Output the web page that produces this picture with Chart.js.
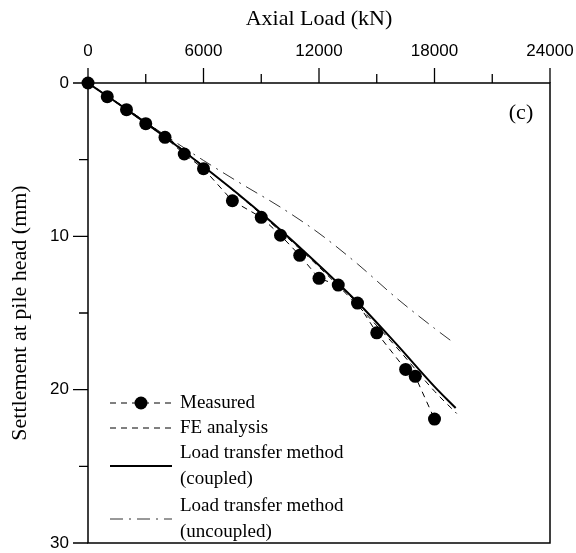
<!DOCTYPE html>
<html>
<head>
<meta charset="utf-8">
<script src="https://cdn.jsdelivr.net/npm/chart.js@4.4.1/dist/chart.umd.min.js"></script>
<style>
  body { margin: 0; background: #fff; }
  canvas { display: block; }
</style>
</head>
<body>
<canvas id="pileChart" width="576" height="553"></canvas>
<script>
// measured load-settlement at pile head
const measuredLoad = [0, 1000, 2000, 3000, 4000, 5000, 6000, 7500, 9000, 10000, 11000, 12000, 13000, 14000, 15000, 16500, 17000, 18000];
const measuredSettle = [0, 0.89, 1.74, 2.65, 3.54, 4.63, 5.59, 7.68, 8.76, 9.93, 11.24, 12.74, 13.18, 14.35, 16.29, 18.68, 19.13, 21.92];

const feLoad = [0, 2000, 4000, 6000, 8000, 10000, 12000, 14000, 16000, 18000, 19150];
const feSettle = [0, 1.68, 3.45, 5.42, 7.5, 9.68, 12.0, 14.5, 17.2, 20.1, 21.55];

const coupledLoad = [0, 2000, 4000, 6000, 8000, 10000, 12000, 14000, 16000, 18000, 19100];
const coupledSettle = [0, 1.72, 3.52, 5.45, 7.45, 9.58, 11.88, 14.3, 17.0, 19.8, 21.2];

const uncoupledLoad = [0, 2000, 4000, 6000, 8000, 10000, 12000, 14000, 16000, 18000, 18900];
const uncoupledSettle = [0, 1.68, 3.4, 5.05, 6.6, 8.1, 9.8, 11.8, 14.0, 16.0, 16.85];

const loadTickLabels = [0, 6000, 12000, 18000, 24000];
const settleTickLabels = [0, 10, 20, 30];

const legendLabels = [
    ['Measured'],
    ['FE analysis'],
    ['Load transfer method', '(coupled)'],
    ['Load transfer method', '(uncoupled)']
];
const panelLabel = '(c)';

function toPoints(xs, ys) {
    return xs.map((v, i) => ({ x: v, y: ys[i] }));
}

const serif = 'Liberation Serif';
const sans = 'Liberation Sans';

const decor = {
    id: 'decor',
    afterDraw(chart) {
        const { ctx, chartArea: a, scales: { x, y } } = chart;
        ctx.save();
        ctx.strokeStyle = '#000';
        ctx.lineWidth = 1.5;
        ctx.strokeRect(a.left, a.top, a.right - a.left, a.bottom - a.top);

        // outward ticks, long on labelled values
        ctx.lineWidth = 1.3;
        ctx.beginPath();
        x.ticks.forEach(t => {
            const px = x.getPixelForValue(t.value);
            const len = loadTickLabels.includes(t.value) ? 15 : 9;
            ctx.moveTo(px, a.top);
            ctx.lineTo(px, a.top - len);
        });
        y.ticks.forEach(t => {
            const py = y.getPixelForValue(t.value);
            const len = settleTickLabels.includes(t.value) ? 15 : 9;
            ctx.moveTo(a.left, py);
            ctx.lineTo(a.left - len, py);
        });
        ctx.stroke();

        // panel label
        ctx.fillStyle = '#000';
        ctx.font = '22px "' + serif + '"';
        ctx.textAlign = 'center';
        ctx.textBaseline = 'middle';
        ctx.fillText(panelLabel, 521, 113);

        // legend
        const rowTop = [403, 428, 453, 506];
        const lineGap = 26;
        ctx.font = '19px "' + serif + '"';
        ctx.textAlign = 'left';
        legendLabels.forEach((lines, i) => {
            const ds = chart.data.datasets[i];
            const ty = rowTop[i];
            lines.forEach((txt, j) => ctx.fillText(txt, 180, ty + j * lineGap));
            const sy = ty + (lines.length - 1) * lineGap / 2;
            ctx.save();
            ctx.strokeStyle = ds.borderColor;
            ctx.lineWidth = ds.borderWidth;
            ctx.setLineDash(ds.borderDash || []);
            ctx.beginPath();
            ctx.moveTo(110, sy);
            ctx.lineTo(172, sy);
            ctx.stroke();
            if (ds.pointRadius > 0) {
                ctx.setLineDash([]);
                ctx.fillStyle = ds.pointBackgroundColor;
                ctx.beginPath();
                ctx.arc(141, sy, ds.pointRadius, 0, Math.PI * 2);
                ctx.fill();
            }
            ctx.restore();
        });
        ctx.restore();
    }
};

const ctxPile = document.getElementById('pileChart').getContext('2d');
const pileChart = new Chart(ctxPile, {
    type: 'scatter',
    data: {
        datasets: [{
            label: 'Measured',
            data: toPoints(measuredLoad, measuredSettle),
            showLine: true,
            borderColor: '#000',
            borderWidth: 1,
            borderDash: [6, 5],
            pointRadius: 6.5,
            pointBackgroundColor: '#000',
            pointBorderWidth: 0,
            clip: 10
        }, {
            label: 'FE analysis',
            data: toPoints(feLoad, feSettle),
            showLine: true,
            borderColor: '#000',
            borderWidth: 1,
            borderDash: [6, 5],
            pointRadius: 0,
            cubicInterpolationMode: 'monotone'
        }, {
            label: 'Load transfer method (coupled)',
            data: toPoints(coupledLoad, coupledSettle),
            showLine: true,
            borderColor: '#000',
            borderWidth: 2,
            pointRadius: 0,
            cubicInterpolationMode: 'monotone'
        }, {
            label: 'Load transfer method (uncoupled)',
            data: toPoints(uncoupledLoad, uncoupledSettle),
            showLine: true,
            borderColor: '#333',
            borderWidth: 1,
            borderDash: [13, 6, 2, 6],
            pointRadius: 0,
            cubicInterpolationMode: 'monotone'
        }]
    },
    options: {
        responsive: false,
        animation: false,
        layout: {
            padding: { left: 0, top: 0, right: 26, bottom: 10 }
        },
        scales: {
            x: {
                type: 'linear',
                position: 'top',
                min: 0,
                max: 24000,
                afterFit: scale => {
                    scale.height = 83;
                    scale.paddingLeft = 0;
                    scale.paddingRight = 0;
                },
                grid: { display: false },
                border: { display: false },
                ticks: {
                    stepSize: 3000,
                    padding: 13,
                    maxRotation: 0,
                    autoSkip: false,
                    color: '#000',
                    font: { family: sans, size: 17 },
                    callback: v => loadTickLabels.includes(v) ? String(v) : ''
                },
                title: {
                    display: true,
                    text: 'Axial Load (kN)',
                    color: '#000',
                    font: { family: serif, size: 22 },
                    padding: { top: 6, bottom: 0 }
                }
            },
            y: {
                type: 'linear',
                reverse: true,
                min: 0,
                max: 30,
                afterFit: scale => {
                    scale.width = 88;
                    scale.paddingTop = 0;
                    scale.paddingBottom = 0;
                },
                grid: { display: false },
                border: { display: false },
                ticks: {
                    stepSize: 5,
                    padding: 11,
                    autoSkip: false,
                    color: '#000',
                    font: { family: sans, size: 17 },
                    callback: v => settleTickLabels.includes(v) ? String(v) : ''
                },
                title: {
                    display: true,
                    text: 'Settlement at pile head (mm)',
                    color: '#000',
                    font: { family: serif, size: 22 },
                    padding: { top: 7, bottom: 0 }
                }
            }
        },
        plugins: {
            legend: { display: false },
            tooltip: { enabled: false }
        }
    },
    plugins: [decor]
});
</script>
</body>
</html>
